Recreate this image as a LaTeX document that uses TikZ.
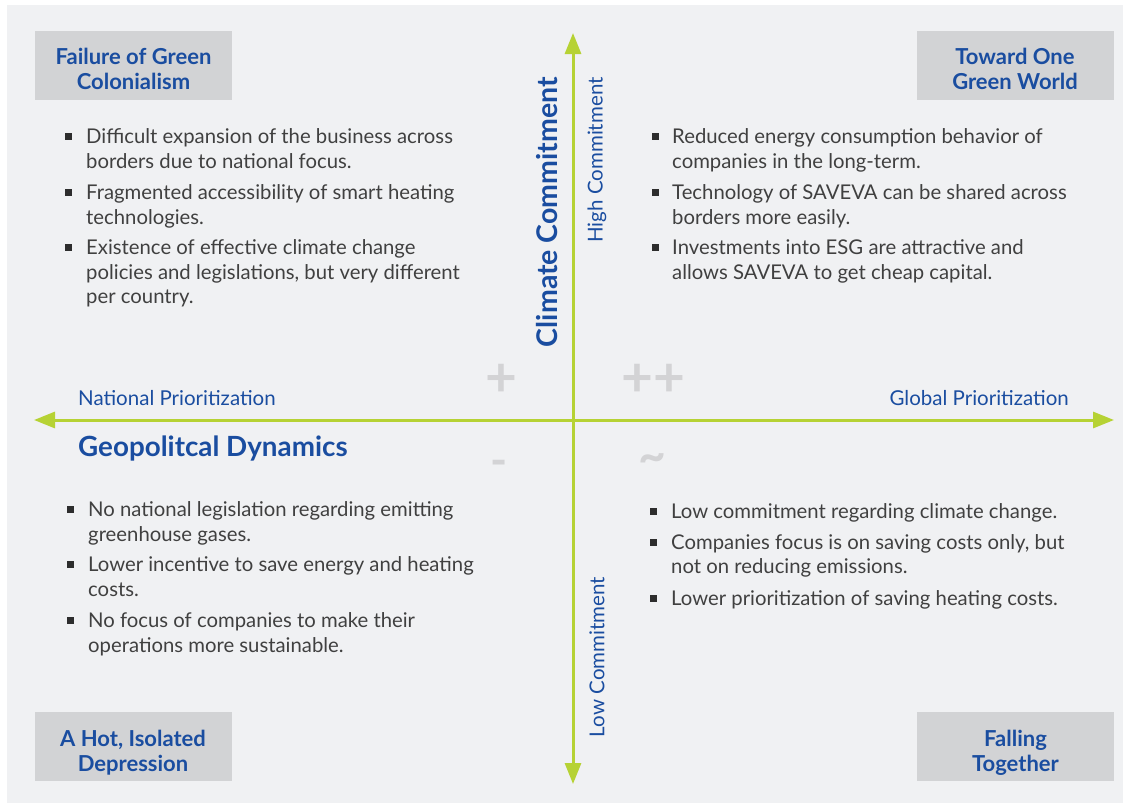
\documentclass[tikz,border=0pt]{standalone}
\usepackage{fontspec}
\setmainfont{Lato}
\usetikzlibrary{arrows.meta}
\definecolor{bgc}{RGB}{240,241,243}
\definecolor{boxc}{RGB}{210,211,213}
\definecolor{bluec}{RGB}{26,77,160}
\definecolor{axisc}{RGB}{182,210,52}
\definecolor{txtc}{RGB}{64,64,64}
\definecolor{bulc}{RGB}{45,45,45}
\definecolor{signc}{RGB}{211,211,213}
\newcommand{\qitem}[1]{\parbox[t]{460pt}{#1}}
\tikzset{
 titlebox/.style={fill=boxc, minimum width=197pt, minimum height=69pt, inner sep=0pt},
 titletext/.style={inner sep=0pt, align=center, text=bluec, font=\fontsize{22}{25}\selectfont\bfseries},
 itemtext/.style={anchor=base west, inner sep=0pt, text=txtc, font=\fontsize{20.3}{24.5}\selectfont},
 bul/.style={fill=bulc, minimum size=7pt, inner sep=0pt},
 axisline/.style={draw=axisc, line width=3pt, {Triangle[length=21pt,width=16pt]}-{Triangle[length=21pt,width=16pt]}},
 axlab/.style={text=bluec, font=\fontsize{20.5}{24}\selectfont, inner sep=0pt},
 axtitle/.style={text=bluec, font=\fontsize{28.5}{32}\selectfont\bfseries, inner sep=0pt},
 sign/.style={text=signc, font=\fontsize{55}{55}\selectfont\bfseries, inner sep=0pt},
}
\begin{document}
\begin{tikzpicture}[x=1pt,y=-1pt]
\useasboundingbox (0,0) rectangle (1123,803);
\fill[bgc] (7,5) rectangle (1123,803);

% axes
\coordinate (vtop) at (573,33);
\coordinate (vbot) at (573,784);
\coordinate (hleft) at (34,420);
\coordinate (hright) at (1114,420);
\draw[axisline] (hleft) -- (hright);
\draw[axisline] (vbot) -- (vtop);

% axis labels
\node[axtitle, rotate=90] (cc) at (547,212) {Climate Commitment};
\node[axlab, rotate=90] (hc) at (597,160) {High Commitment};
\node[axlab, rotate=90] (lc) at (597,657) {Low Commitment};
\node[axlab, anchor=base west] (np) at (78,405) {National Prioritization};
\node[axlab, anchor=base east] (gp) at (1069,405) {Global Prioritization};
\node[axtitle, anchor=base west, font=\fontsize{27.8}{32}\selectfont\bfseries] (gd) at (78,456) {Geopolitcal Dynamics};

% signs
\node[sign] (s1) at (501,380) {+};
\node[sign] (s2) at (653,380) {++};
\node[sign, font=\fontsize{46}{46}\selectfont\bfseries] (s3) at (499,468) {-};
\node[sign, font=\fontsize{48}{48}\selectfont\bfseries] (s4) at (652,463) {\char"007E};

% title boxes
\node[titlebox] (ttl) at (133.5,65.5) {};
\node[titletext] (ttlt) at ([yshift=-3.5pt]ttl.center) {Failure of Green\\Colonialism};
\node[titlebox] (ttr) at (1015,65.5) {};
\node[titletext] (ttrt) at ([yshift=-3.5pt]ttr.center) {Toward One\\Green World};
\node[titlebox] (tbl) at (133,746) {};
\node[titletext] (tblt) at ([yshift=-6.5pt]tbl.center) {A Hot, Isolated\\Depression};
\node[titlebox] (tbr) at (1015.5,746.5) {};
\node[titletext] (tbrt) at ([yshift=-6pt]tbr.center) {Falling\\Together};

% top-left items
\node[bul] (btl1) at (68,136.5) {};
\node[itemtext] (itl1) at (86,143.5) {\qitem{Difficult expansion of the business across\\borders due to national focus.}};
\node[bul] (btl2) at (68,192.5) {};
\node[itemtext] (itl2) at (86,199.5) {\qitem{Fragmented accessibility of smart heating\\technologies.}};
\node[bul] (btl3) at (68,247.5) {};
\node[itemtext] (itl3) at (86,254.5) {\qitem{Existence of effective climate change\\policies and legislations, but very different\\per country.}};

% top-right items
\node[bul] (btr1) at (655,136.5) {};
\node[itemtext] (itr1) at (672,143.5) {\qitem{Reduced energy consumption behavior of\\companies in the long-term.}};
\node[bul] (btr2) at (655,192.5) {};
\node[itemtext] (itr2) at (672,199.5) {\qitem{Technology of SAVEVA can be shared across\\borders more easily.}};
\node[bul] (btr3) at (655,247.5) {};
\node[itemtext] (itr3) at (672,254.5) {\qitem{Investments into ESG are attractive and\\allows SAVEVA to get cheap capital.}};

% bottom-left items
\node[bul] (bbl1) at (70,509.5) {};
\node[itemtext] (ibl1) at (88,516.5) {\qitem{No national legislation regarding emitting\\greenhouse gases.}};
\node[bul] (bbl2) at (70,564.5) {};
\node[itemtext] (ibl2) at (88,571.5) {\qitem{Lower incentive to save energy and heating\\costs.}};
\node[bul] (bbl3) at (70,620.5) {};
\node[itemtext] (ibl3) at (88,627.5) {\qitem{No focus of companies to make their\\operations more sustainable.}};

% bottom-right items
\node[bul] (bbr1) at (653,511) {};
\node[itemtext] (ibr1) at (671,518) {\qitem{Low commitment regarding climate change.}};
\node[bul] (bbr2) at (653,542) {};
\node[itemtext] (ibr2) at (671,549) {\qitem{Companies focus is on saving costs only, but\\not on reducing emissions.}};
\node[bul] (bbr3) at (653,598) {};
\node[itemtext] (ibr3) at (671,605) {\qitem{Lower prioritization of saving heating costs.}};
\end{tikzpicture}
\end{document}
